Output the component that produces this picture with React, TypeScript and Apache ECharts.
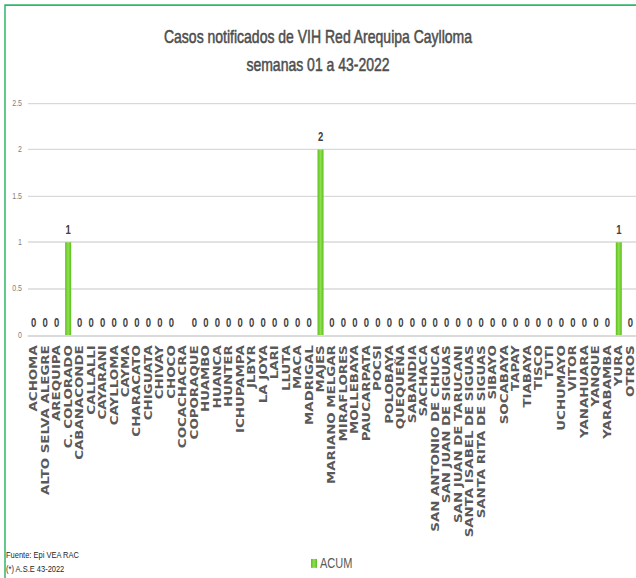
import React, { useEffect, useRef } from "react";
import * as echarts from "echarts";

const categories = [
  "ACHOMA", "ALTO SELVA ALEGRE", "AREQUIPA", "C. COLORADO", "CABANACONDE",
  "CALLALLI", "CAYARANI", "CAYLLOMA", "CAYMA", "CHARACATO", "CHIGUATA",
  "CHIVAY", "CHOCO", "COCACHACRA", "COPORAQUE", "HUAMBO", "HUANCA", "HUNTER",
  "ICHUPAMPA", "JLBYR", "LA JOYA", "LARI", "LLUTA", "MACA", "MADRIGAL",
  "MAJES", "MARIANO MELGAR", "MIRAFLORES", "MOLLEBAYA", "PAUCARPATA", "POCSI",
  "POLOBAYA", "QUEQUEÑA", "SABANDIA", "SACHACA", "SAN ANTONIO DE CHUCA",
  "SAN JUAN DE SIGUAS", "SAN JUAN DE TARUCANI", "SANTA ISABEL DE SIGUAS",
  "SANTA RITA DE SIGUAS", "SIBAYO", "SOCABAYA", "TAPAY", "TIABAYA", "TISCO",
  "TUTI", "UCHUMAYO", "VITOR", "YANAHUARA", "YANQUE", "YARABAMBA", "YURA",
  "OTROS",
];

const acumValues: (number | string)[] = [
  0, 0, 0, 1, 0,
  0, 0, 0, 0, 0, 0,
  0, 0, "-", 0, 0, 0, 0,
  0, 0, 0, 0, 0, 0, 0,
  2, 0, 0, 0, 0, 0,
  0, 0, 0, 0, 0,
  0, 0, 0,
  0, 0, 0, 0, 0, 0,
  0, 0, 0, 0, 0, 0, 1,
  0,
];

const seriesName = "ACUM";
const titleLines = ["Casos notificados de VIH Red Arequipa Caylloma", "semanas 01 a 43-2022"];
const footnotes = ["Fuente: Epi VEA RAC", "(*) A.S.E 43-2022"];
const yMin = 0;
const yMax = 2.5;
const yStep = 0.5;

const W = 636;
const H = 455;
const FULL_H = 578;

export default function App() {
  const ref = useRef<HTMLDivElement>(null);
  useEffect(() => {
    if (!ref.current) return;
    const chart = echarts.init(ref.current, undefined, { renderer: "svg", width: W, height: H });
    const barColor = new echarts.graphic.LinearGradient(0, 0, 1, 0, [
      { offset: 0, color: "#5cbf1c" },
      { offset: 0.5, color: "#8fdf50" },
      { offset: 1, color: "#5cbf1c" },
    ]);
    chart.setOption({
      animation: false,
      backgroundColor: "#ffffff",
      title: {
        text: titleLines.join("\n"),
        left: "center",
        top: 18,
        padding: 0,
        textStyle: {
          fontFamily: "Liberation Sans, Arial, sans-serif",
          fontSize: 14,
          fontWeight: "normal",
          color: "#4d4d4d",
          lineHeight: 22,
          textBorderColor: "#4d4d4d",
          textBorderWidth: 0.4,
        },
      },
      legend: {
        data: [seriesName],
        left: 306,
        top: 433,
        itemWidth: 6,
        itemHeight: 7,
        icon: "rect",
        textStyle: {
          fontFamily: "Liberation Sans, Arial, sans-serif",
          fontSize: 11,
          color: "#595959",
          padding: [0, 0, 0, -2],
        },
      },
      grid: { left: 28, right: 0, top: 81.1, bottom: H - 263.8, containLabel: false },
      xAxis: {
        type: "category",
        data: categories,
        axisTick: { show: false },
        axisLine: { lineStyle: { color: "#d9d9d9" } },
        axisLabel: {
          rotate: 90,
          interval: 0,
          margin: 8,
          fontFamily: "DejaVu Sans, Verdana, sans-serif",
          fontWeight: "bold",
          fontSize: 10.5,
          color: "#595959",
        },
      },
      yAxis: {
        type: "value",
        min: yMin,
        max: yMax,
        interval: yStep,
        axisLine: { show: false },
        axisTick: { show: false },
        splitLine: { lineStyle: { color: "#d9d9d9", width: 1 } },
        axisLabel: {
          fontFamily: "Liberation Sans, Arial, sans-serif",
          fontSize: 7,
          color: "#808080",
          margin: 6,
        },
      },
      series: [
        {
          name: seriesName,
          type: "bar",
          data: acumValues,
          barWidth: 6,
          itemStyle: { color: barColor },
          label: {
            show: true,
            position: "top",
            distance: 5,
            fontFamily: "Liberation Sans, Arial, sans-serif",
            fontSize: 9.5,
            fontWeight: "bold",
            color: "#404040",
          },
        },
      ],
      graphic: [
        {
          type: "rect",
          shape: { x: 5, y: 4, width: 800, height: 600 },
          style: { fill: "none", stroke: "#2fb86a", lineWidth: 1.5 },
          silent: true,
        },
        {
          type: "text",
          left: 6,
          top: 433,
          style: {
            text: footnotes[0],
            fontFamily: "Liberation Sans, Arial, sans-serif",
            fontSize: 7.5,
            fill: "#262626",
          },
        },
        {
          type: "text",
          left: 6,
          top: 444,
          style: {
            text: footnotes[1],
            fontFamily: "Liberation Sans, Arial, sans-serif",
            fontSize: 7.5,
            fill: "#262626",
          },
        },
      ],
    });
    return () => chart.dispose();
  }, []);
  return (
    <div
      style={{
        position: "absolute",
        left: 0,
        top: 0,
        width: W,
        height: FULL_H,
        overflow: "hidden",
        background: "#fff",
      }}
    >
      <div
        ref={ref}
        style={{
          width: W,
          height: H,
          transform: `scaleY(${FULL_H / H})`,
          transformOrigin: "0 0",
        }}
      />
    </div>
  );
}
